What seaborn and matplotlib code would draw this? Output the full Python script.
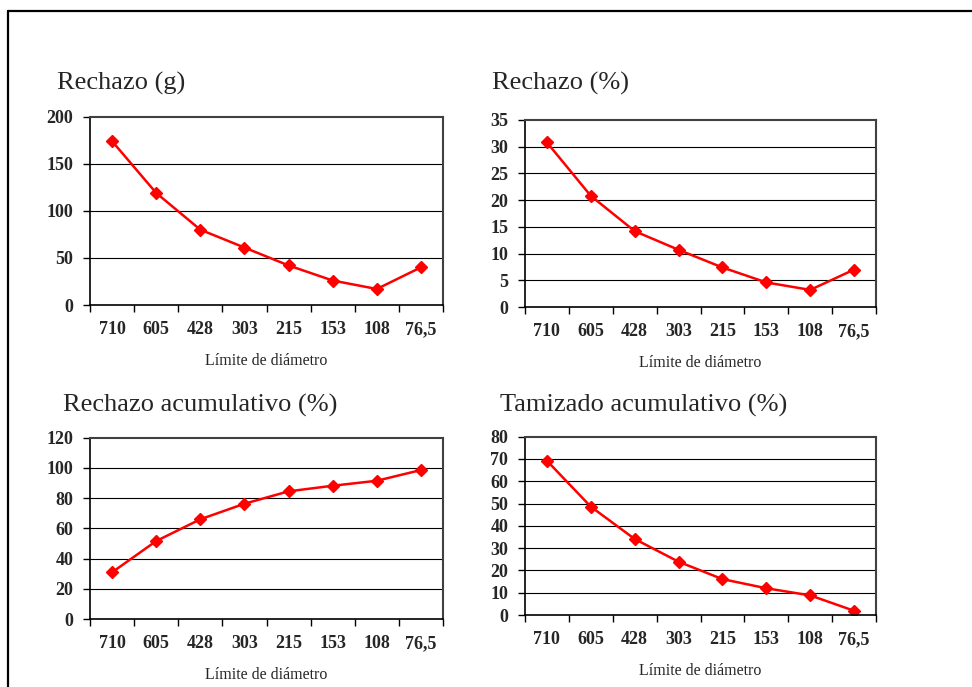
import numpy as np
import pandas as pd
import matplotlib
matplotlib.use("Agg")
import matplotlib.pyplot as plt
from matplotlib.lines import Line2D
import seaborn as sns

# ---- data ----
categories = ["710", "605", "428", "303", "215", "153", "108", "76,5"]
rechazo_g = [174, 119, 80, 61, 42, 26, 17, 40]
rechazo_pct = [30.8, 20.8, 14.2, 10.7, 7.4, 4.6, 3.2, 7.0]
rechazo_acum = [30.9, 51.6, 66.0, 76.3, 84.5, 88.2, 91.5, 98.6]
tamizado_acum = [69.2, 48.6, 34.1, 23.9, 16.1, 12.0, 8.8, 1.9]

titles = ["Rechazo (g)", "Rechazo (%)", "Rechazo acumulativo (%)", "Tamizado acumulativo (%)"]
series = [rechazo_g, rechazo_pct, rechazo_acum, tamizado_acum]
ylims = [(0, 200), (0, 35), (0, 120), (0, 80)]
ysteps = [50, 5, 20, 10]
xlabel = "Límite de diámetro"

sns.set_style("white")
plt.rcParams["font.family"] = ["Liberation Serif", "DejaVu Serif"]

W, H = 972, 687
fig = plt.figure(figsize=(W / 100, H / 100), dpi=100)

# axes boxes in pixels: left, right, top, bottom
boxes = [(90, 443, 116.7, 305), (525, 876, 120, 307),
         (90, 443, 437.7, 619), (525, 876, 436.7, 615)]
title_pos = [(57, 83), (492, 83), (63, 405), (500, 405)]

for i in range(4):
    l, r, t, b = boxes[i]
    ax = fig.add_axes([l / W, 1 - b / H, (r - l) / W, (b - t) / H])
    df = pd.DataFrame({"x": np.arange(len(categories)), "y": series[i]})
    sns.lineplot(data=df, x="x", y="y", ax=ax, color="#FF0000", linewidth=1.8,
                 marker="D", markersize=6.5, markeredgecolor="#FF0000",
                 markeredgewidth=1, sort=False)
    ax.set_xlim(-0.5, len(categories) - 0.5)
    ax.set_ylim(*ylims[i])
    yt = np.arange(ylims[i][0], ylims[i][1] + ysteps[i] / 2, ysteps[i])
    ax.set_yticks(yt)
    ax.set_yticklabels([f"{v:g}" for v in yt], fontweight="bold", fontsize=13)
    for v in yt[1:-1]:
        ax.axhline(v, color="black", linewidth=0.8, zorder=0)
    ax.set_xticks(np.arange(-0.5, len(categories)), labels=[""] * (len(categories) + 1))
    ax.set_xticks(np.arange(len(categories)), labels=categories, minor=True)
    for lab in ax.get_xticklabels(minor=True):
        lab.set_fontweight("bold")
        lab.set_fontsize(13)
    ax.tick_params(axis="x", which="major", direction="out", length=5, width=1, color="black")
    ax.tick_params(axis="x", which="minor", length=0, pad=11.5)
    ax.tick_params(axis="y", direction="out", length=5, width=1, color="black", pad=7)
    ax.tick_params(left=True, bottom=True)
    ax.set_xlabel(xlabel, fontsize=11.5, labelpad=11)
    ax.set_ylabel("")
    for s in ["left", "bottom"]:
        ax.spines[s].set_color("black")
        ax.spines[s].set_linewidth(1.2)
    for s in ["top", "right"]:
        ax.spines[s].set_color("#404040")
        ax.spines[s].set_linewidth(1.5)
    tx, ty = title_pos[i]
    fig.text(tx / W, 1 - ty / H, titles[i], fontsize=19, ha="left", va="center")

# outer frame
fig.add_artist(Line2D([8 / W, 8 / W], [0, 1 - 11 / H], color="black", linewidth=1.6,
                      transform=fig.transFigure))
fig.add_artist(Line2D([8 / W, 1], [1 - 11 / H, 1 - 11 / H], color="black", linewidth=1.6,
                      transform=fig.transFigure))

fig.savefig("out.png", dpi=100)
